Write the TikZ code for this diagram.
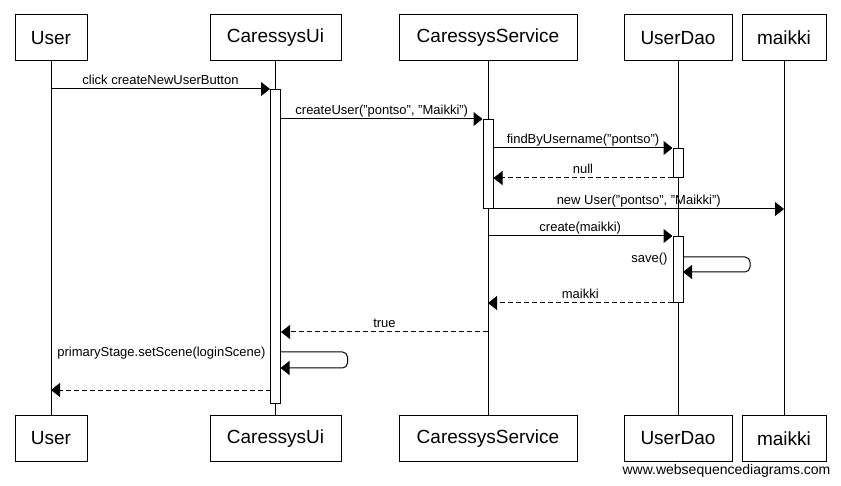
\documentclass[tikz,border=0pt]{standalone}
\usepackage{fontspec}
\setmainfont{Liberation Sans}
\usetikzlibrary{arrows.meta}

\newcommand{\dq}{\symbol{34}}

\begin{document}
\begin{tikzpicture}[x=1pt,y=-1pt,line width=1pt,
    actor/.style={draw,minimum height=46pt,inner sep=0pt,font=\fontsize{19}{23}\selectfont},
    bar/.style={draw,fill=white,minimum width=10pt,inner sep=0pt,anchor=north},
    call/.style={-{Triangle[length=9pt,width=14pt]}},
    reply/.style={call,dash pattern=on 5pt off 3pt},
    msg/.style={anchor=base,yshift=4pt,inner sep=0pt,font=\fontsize{13}{15}\selectfont},
    selflabel/.style={anchor=east,inner sep=0pt,font=\fontsize{13}{15}\selectfont}]

\useasboundingbox (0,0) rectangle (841,486);

% participants
\node[actor,minimum width=72pt] (user) at (51,38) {User};
\node[actor,minimum width=131pt] (ui) at (275.5,38) {CaressysUi};
\node[actor,minimum width=178pt] (service) at (488,38) {CaressysService};
\node[actor,minimum width=108pt] (dao) at (678,38) {UserDao};
\node[actor,minimum width=84pt] (maikki) at (784,38) {maikki};

\node[actor,minimum width=72pt] (user2) at (51,438.5) {User};
\node[actor,minimum width=131pt] (ui2) at (275.5,438.5) {CaressysUi};
\node[actor,minimum width=178pt] (service2) at (488,438.5) {CaressysService};
\node[actor,minimum width=108pt] (dao2) at (678,438.5) {UserDao};
\node[actor,minimum width=84pt] (maikki2) at (784,438.5) {maikki};

\foreach \n in {user,ui,service,dao,maikki}
    \draw (\n) -- (\n2);

% activations
\node[bar,minimum height=314pt] (uibar) at (275.5,89) {};
\node[bar,minimum height=89pt] (servicebar) at (488,119) {};
\node[bar,minimum height=29pt] (daobar) at (678,148) {};
\node[bar,minimum height=66pt] (daobar2) at (678,236) {};

\coordinate (save) at (683,257);
\coordinate (setscene) at (280.5,352);
\coordinate (gottrue) at (488,332);
\coordinate (back) at (270.5,390);

\path[every node/.style={msg}]
(user |- uibar.north) edge[call] node {click createNewUserButton} (uibar.north west)
(uibar.east |- servicebar.north) edge[call] node {createUser(\dq pontso\dq, \dq Maikki\dq)} (servicebar.north west)
(servicebar.east |- daobar.north) edge[call] node {findByUsername(\dq pontso\dq)} (daobar.north west)
(daobar.south west) edge[reply] node {null} (servicebar.east |- daobar.south)
(servicebar.south east) edge[call] node {new User(\dq pontso\dq, \dq Maikki\dq)} (maikki |- servicebar.south)
(service |- daobar2.north) edge[call] node {create(maikki)} (daobar2.north west)
(daobar2.south west) edge[reply] node {maikki} (service |- daobar2.south)
(gottrue) edge[reply] node {true} (uibar.east |- gottrue)
(back) edge[reply] (user |- back)
;

% self calls
\draw[call,rounded corners=5pt] (save) node[selflabel,xshift=-15pt,yshift=-2pt] {save()}
    -- ++(67,0) -- ++(0,15) -- ++(-67,0);
\draw[call,rounded corners=5pt] (setscene) node[selflabel,xshift=-14.5pt,yshift=-1.5pt] {primaryStage.setScene(loginScene)}
    -- ++(67,0) -- ++(0,16) -- ++(-67,0);

\node[font=\fontsize{14}{16}\selectfont] (credit) at (726.5,471) {www.websequencediagrams.com};

\end{tikzpicture}
\end{document}
